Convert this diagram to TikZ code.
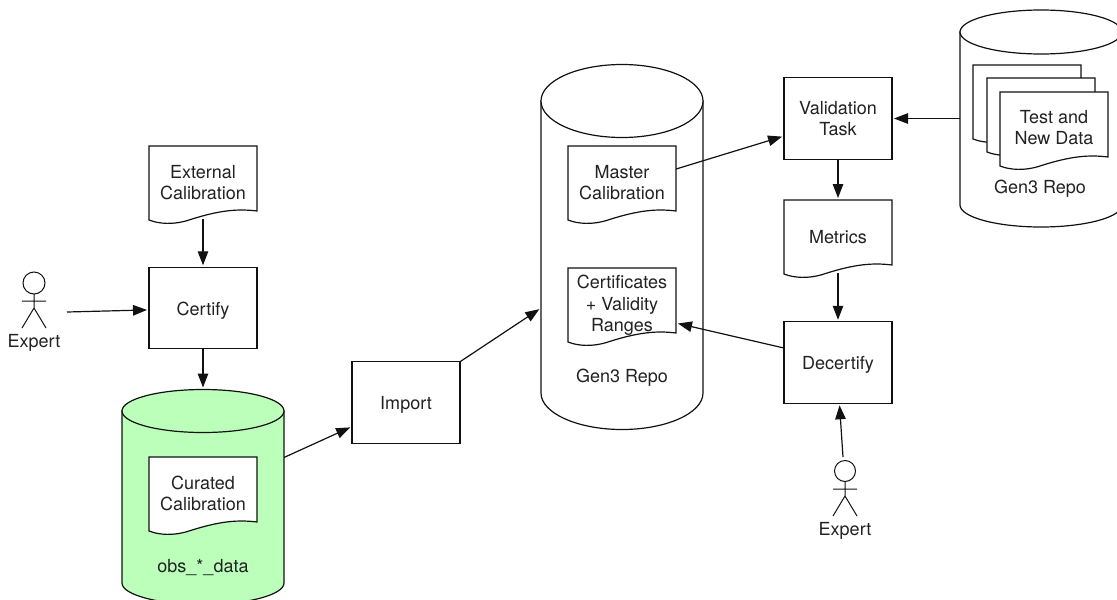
\documentclass[tikz,border=0pt]{standalone}
\usepackage{fontspec}
\setmainfont{TeX Gyre Heros}
\usetikzlibrary{arrows.meta}
\definecolor{inkline}{HTML}{111111}
\definecolor{inktext}{HTML}{222222}
\definecolor{curatedgreen}{HTML}{BBFFBB}
\tikzset{
  x=1pt,y=-1pt,
  every node/.style={text=inktext,font=\fontsize{18}{21.5}\selectfont,inner sep=0pt,outer sep=0pt,align=center},
  shapeline/.style={draw=inkline,line width=1.2pt,line join=miter},
  boxnode/.style={shapeline,fill=white,minimum width=108pt,minimum height=81.5pt},
  docnode/.style={minimum width=108pt,minimum height=73pt},
  flow/.style={draw=inkline,line width=1.2pt,-{Triangle[length=14pt,width=10.5pt]},shorten >=2pt},
  stick/.style={draw=inkline,line width=1pt}
}
% lowers a single line of text without changing the node's box
\newcommand\dn[2]{\raisebox{-#1pt}[\height][\depth]{#2}}
% name, left x, top y, text, text shift
\newcommand\docshape[5][0]{%
  \path[shapeline,fill=white] (#3,#4) -- ({#3+108},#4) -- ({#3+108},{#4+65})
    .. controls ({#3+85},{#4+62}) and ({#3+65},{#4+66}) .. ({#3+40},{#4+74})
    .. controls ({#3+25},{#4+79}) and ({#3+10},{#4+78}) .. (#3,{#4+74}) -- cycle;
  \node[docnode] (#2) at ({#3+54},{#4+36.5+#1}) {#5};
}
% name, centre x, top-ellipse cy, bottom-ellipse cy, rx, ry, fill
\newcommand\cylshape[7]{%
  \path[shapeline,fill=#7] ({#2-#5},#3) -- ({#2-#5},#4)
    .. controls ({#2-#5},{#4+.55*#6}) and ({#2-.55*#5},{#4+#6}) .. (#2,{#4+#6})
    .. controls ({#2+.55*#5},{#4+#6}) and ({#2+#5},{#4+.55*#6}) .. ({#2+#5},#4)
    -- ({#2+#5},#3) -- cycle;
  \path[shapeline,fill=#7] (#2,#3) ellipse [x radius=#5pt,y radius=#6pt];
  \node[minimum width={2*#5*1pt},minimum height={(#4+#6-#3+#6)*1pt}] (#1) at (#2,{(#3-#6+#4+#6)/2}) {};
}
% name, centre x, head cy, head radius
\newcommand\actorfig[4]{%
  \node[stick,circle,minimum size={2*#4*1pt}] (#1) at (#2,#3) {};
  \path[stick] (#1.south) -- (#2,{#3+25}) (#2,{#3+25}) -- ({#2-12},{#3+45}) (#2,{#3+25}) -- ({#2+12},{#3+45})
    ({#2-12},{#3+18}) -- ({#2+12},{#3+18});
  \node (#1label) at (#2,{#3+59.5}) {Expert};
}
\begin{document}
\begin{tikzpicture}
\clip (0,0) rectangle (1117,600);
\fill[white] (0,0) rectangle (1117,600);

% left column
\docshape{external}{149}{146}{External\\Calibration}
\node[boxnode] (certify) at (203,308) {\dn{2.5}{Certify}};
\cylshape{obs}{203}{411}{583}{81}{21.5}{curatedgreen}
\docshape{curated}{149}{457}{Curated\\Calibration}
\node (obslabel) at (203,567.5) {obs\_*\_data};
\actorfig{expertA}{34}{283}{11}
\coordinate (expertAfree) at (67,312);

% middle
\node[boxnode] (import) at (406,402.5) {\dn{2}{Import}};
\cylshape{repoA}{622}{101}{393}{81}{36.5}{white}
\docshape{master}{568}{146}{Master\\Calibration}
\docshape[1]{certs}{568}{268}{Certificates\\+ Validity\\Ranges}
\node (repoAlabel) at (622,377.5) {Gen3 Repo};

% right
\node[boxnode] (validation) at (838,118.5) {Validation\\Task};
\docshape{metrics}{784}{200}{\dn{1}{Metrics}}
\node[boxnode] (decertify) at (838,362.5) {\dn{2.5}{Decertify}};
\actorfig{expertB}{845}{471}{10.5}
\coordinate (expertBfree) at (843,457);

\cylshape{repoB}{1041}{32}{205}{81}{22}{white}
\docshape{dataA}{973}{65}{}
\docshape{dataB}{987}{78}{}
\docshape[-1]{dataC}{1000}{92}{Test and\\New Data}
\node (repoBlabel) at (1040,189) {Gen3 Repo};

% connectors
\draw[flow] (external.south) -- (certify.north);
\draw[flow] (expertAfree) -- (certify.182.6);
\draw[flow] (certify.south) -- (obs.north);
\draw[flow] (obs.26.8) -- (import.204.4);
\draw[flow] (import.north east) -- (repoA.217.2);
\draw[flow] (master.14) -- (validation.198.9);
\draw[flow] (repoB.west) -- (validation.east);
\draw[flow] (validation.south) -- (metrics.north);
\draw[flow] (metrics.south) -- (decertify.north);
\draw[flow] (decertify.165) -- (certs.342);
\draw[flow] (expertBfree) -- (decertify.272.8);
\end{tikzpicture}
\end{document}
